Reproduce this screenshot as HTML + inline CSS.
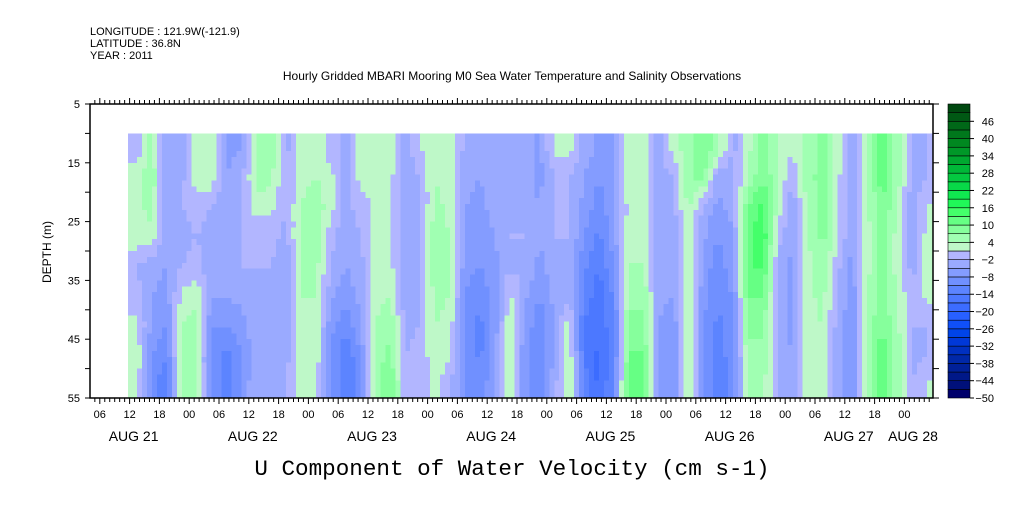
<!DOCTYPE html>
<html><head><meta charset="utf-8"><style>
body{margin:0;background:#fff;}
svg text{font-family:"Liberation Sans",sans-serif;fill:#000;}
</style></head><body>
<svg id="chart" width="1009" height="504" xmlns="http://www.w3.org/2000/svg">
<rect width="1009" height="504" fill="#fff"/>
<text x="90" y="35" font-size="11">LONGITUDE : 121.9W(-121.9)</text>
<text x="90" y="47" font-size="11">LATITUDE : 36.8N</text>
<text x="90" y="59" font-size="11">YEAR : 2011</text>
<text x="512" y="80" font-size="12" text-anchor="middle">Hourly Gridded MBARI Mooring M0 Sea Water Temperature and Salinity Observations</text>
<text x="0" y="0" font-size="12" text-anchor="middle" transform="translate(51,252) rotate(-90)">DEPTH (m)</text>
<text x="512" y="475" font-size="22.6" text-anchor="middle" style="font-family:'Liberation Mono',monospace">U Component of Water Velocity (cm s-1)</text>
<g id="cells" shape-rendering="crispEdges"></g><g id="axes"></g><g id="cbar"></g>
</svg>
<script>
const hoursStart = [12,15,18,21,24,27,30,33,36,39,42,45,48,51,54,57,60,63,66,69,72,75,78,81,84,87,90,93,96,99,102,105,108,111,114,117,120,123,126,129,132,135,138,141,144,147,150,153,156,159,162,165,168,171];
const depthTops = [10,15,20,25,30,35,40,45,50];
const values = [
[-1,3,3,3,-2,-1,2,3,3],[5,6,5,3,-4,-5,-6,-8,-10],[-5,-5,-4,-4,-5,-6,-8,-10,-14],[-4,-3,-2,-3,-2,2,4,6,6],
[3,3,-1,-2,-1,3,5,5,4],[3,3,-2,-3,-4,-5,-8,-9,-8],[-6,-5,-4,-3,-3,-5,-8,-12,-12],[-5,-3,-2,-2,-2,-4,-6,-8,-8],
[5,5,3,-2,-2,-2,-3,-3,-2],[6,5,2,-1,-2,-3,-4,-4,-3],[-3,-2,-2,-3,-4,-5,-4,-3,-2],[2,3,4,5,5,4,3,2,2],
[4,4,6,6,5,4,3,3,2],[-1,2,2,-1,-2,-4,-7,-8,-8],[-3,-3,-3,-4,-5,-7,-10,-14,-14],[3,2,-1,-2,-3,-4,-5,-8,-10],
[3,3,2,2,2,3,4,5,6],[3,2,2,1,2,4,6,8,10],[-4,-4,-5,-5,-5,-4,-3,-2,-2],[1,-2,-3,-3,-2,-2,-2,-1,-1],
[3,4,5,6,6,5,4,3,2],[3,3,3,4,5,4,3,2,-2],[-3,-4,-5,-6,-7,-8,-9,-8,-8],[-4,-5,-6,-6,-8,-10,-12,-12,-10],
[-4,-4,-4,-5,-6,-7,-7,-6,-6],[-3,-3,-2,-2,-3,2,3,3,3],[-4,-4,-3,-2,-2,-4,-6,-7,-7],[-6,-6,-5,-5,-6,-8,-10,-10,-10],
[2,-2,-2,-2,-3,-4,-5,-5,-3],[2,-2,-2,-2,-3,-3,3,4,4],[-3,-5,-6,-8,-10,-12,-14,-14,-12],[-6,-8,-10,-12,-14,-16,-16,-18,-18],
[-6,-5,-5,-6,-8,-10,-12,-12,-10],[4,3,2,3,4,6,8,10,12],[3,3,2,3,4,6,8,10,10],[-3,-3,-4,-4,-4,-4,-5,-6,-6],
[2,-2,-3,-4,-4,-5,-7,-8,-8],[6,6,5,4,4,4,5,5,5],[10,8,-3,-4,-6,-7,-8,-8,-8],[5,-4,-6,-8,-10,-10,-12,-12,-14],
[-3,-3,-4,-5,-6,-8,-10,-10,-10],[3,4,10,12,12,10,8,6,5],[8,10,14,16,14,10,8,6,5],[4,4,3,-1,-2,-3,-3,-3,-3],
[2,-2,-4,-5,-6,-6,-6,-5,-4],[5,6,5,4,3,3,3,3,2],[8,8,8,8,6,5,4,3,2],[3,2,2,2,-1,-2,-3,-4,-4],
[-4,-5,-6,-6,-6,-7,-8,-8,-8],[4,3,3,3,3,4,5,6,6],[12,12,10,8,8,8,10,12,12],[6,6,4,3,3,4,5,6,6],
[-3,-3,-4,-4,-3,-2,-2,-3,-2],[-2,-2,1,2,2,2,-2,-2,1]];
const colorLevels = [-50,-47,-44,-41,-38,-35,-32,-29,-26,-23,-20,-17,-14,-11,-8,-5,-2,1,4,7,10,13,16,19,22,25,28,31,34,37,40,43,46,49,52];
const palette = ["#00006b","#00107a","#001888","#002098","#0028a8","#0030c0","#0038d8","#0044e8","#1050f8","#2860ff","#3c6cff","#4c78ff","#5c84ff","#7090ff","#849cff","#9aaaff","#b2b6ff","#bef8c8","#a0ffb2","#86ff9c","#66ff84","#44ff6a","#20f858","#10e850","#08d848","#04c840","#00b838","#00a830","#009828","#008820","#00781c","#006818","#005814","#004810"];
const yTicks = [5,15,25,35,45,55];
const cbarLabels = [46,40,34,28,22,16,10,4,-2,-8,-14,-20,-26,-32,-38,-44,-50];
const dayNames = ["AUG 21","AUG 22","AUG 23","AUG 24","AUG 25","AUG 26","AUG 27","AUG 28"];

const NS="http://www.w3.org/2000/svg";
const X0=90,X1=933,Y0=104,Y1=398;
const xh=h=>70+h*119.2/24;
const yd=d=>Y0+(d-5)*(Y1-Y0)/50;
const cbY=v=>398-(v+50)/102*294;
function col(v){for(let i=0;i<palette.length;i++){if(v<colorLevels[i+1])return palette[i];}return palette[palette.length-1];}
function mk(tag,a,p){const e=document.createElementNS(NS,tag);for(const k in a)e.setAttribute(k,a[k]);p.appendChild(e);return e;}
// bilinear sampling of the gridded data at cell centres
function sample(h,d){
  const nc=values.length,nr=depthTops.length;
  let fc=(h-(hoursStart[0]+1.5))/3; fc=Math.max(0,Math.min(nc-1,fc));
  let fr=(d-(depthTops[0]+2.5))/5; fr=Math.max(0,Math.min(nr-1,fr));
  const c0=Math.floor(fc),c1=Math.min(nc-1,c0+1),r0=Math.floor(fr),r1=Math.min(nr-1,r0+1);
  const tc=fc-c0,tr=fr-r0;
  const a=values[c0][r0]*(1-tr)+values[c0][r1]*tr;
  const b=values[c1][r0]*(1-tr)+values[c1][r1]*tr;
  return a*(1-tc)+b*tc;
}
const cells=document.getElementById('cells');
const hEnd=hoursStart[hoursStart.length-1]+3;
for(let h=hoursStart[0]-0.5;h<hEnd;h+=1){
  const xa=Math.max(xh(h),128), xb=Math.min(xh(h+1),X1);
  if(xb<=xa)continue;
  for(let d=depthTops[0];d<depthTops[depthTops.length-1]+5;d+=1){
    const r=mk('rect',{x:xa,y:yd(d),width:xb-xa+0.6,height:yd(d+1)-yd(d)+0.6,fill:col(sample(h+0.5,d+0.5))},cells);
    
    
  }
}
const ax=document.getElementById('axes');
const fr=mk('rect',{x:X0,y:Y0,width:X1-X0,height:Y1-Y0,fill:'none',stroke:'#000','stroke-width':1.5},ax);


for(let d=5;d<=55;d+=5){const y=yd(d);mk('line',{x1:X0-5,x2:X0,y1:y,y2:y,stroke:'#000'},ax);mk('line',{x1:X1,x2:X1+6,y1:y,y2:y,stroke:'#000'},ax);}
yTicks.forEach(d=>{const t=mk('text',{x:80,y:yd(d)+4,'font-size':11,'text-anchor':'end'},ax);t.textContent=d;
  
  });
for(let h=4;h<=173;h++){const x=xh(h);if(x<X0||x>X1)continue;const L=h%6===0?6:4;
  mk('line',{x1:x,x2:x,y1:Y0-L,y2:Y0,stroke:'#000'},ax);mk('line',{x1:x,x2:x,y1:Y1,y2:Y1+L,stroke:'#000'},ax);
  if(h%6===0){const t=mk('text',{x:x,y:418,'font-size':11,'text-anchor':'middle'},ax);t.textContent=String(h%24).padStart(2,'0');
    
    }}
dayNames.forEach((n,i)=>{let x=xh(i*24+12)+4;if(i===7)x=913;const t=mk('text',{x:x,y:441,'font-size':14,'text-anchor':'middle'},ax);t.textContent=n;
  
  });
const cb=document.getElementById('cbar');
palette.forEach((c,i)=>{const ya=cbY(colorLevels[i+1]),yb=cbY(colorLevels[i]);
  const r=mk('rect',{x:948,y:ya,width:22,height:yb-ya,fill:c,stroke:'#000','stroke-width':0.6},cb);
  
  });
cbarLabels.forEach(v=>{const t=mk('text',{x:994,y:cbY(v)+4,'font-size':11,'text-anchor':'end'},cb);t.textContent=v<0?'\u2212'+(-v):v;
  mk('line',{x1:970,x2:974,y1:cbY(v),y2:cbY(v),stroke:'#000'},cb);
  
  });
</script>
</body></html>
